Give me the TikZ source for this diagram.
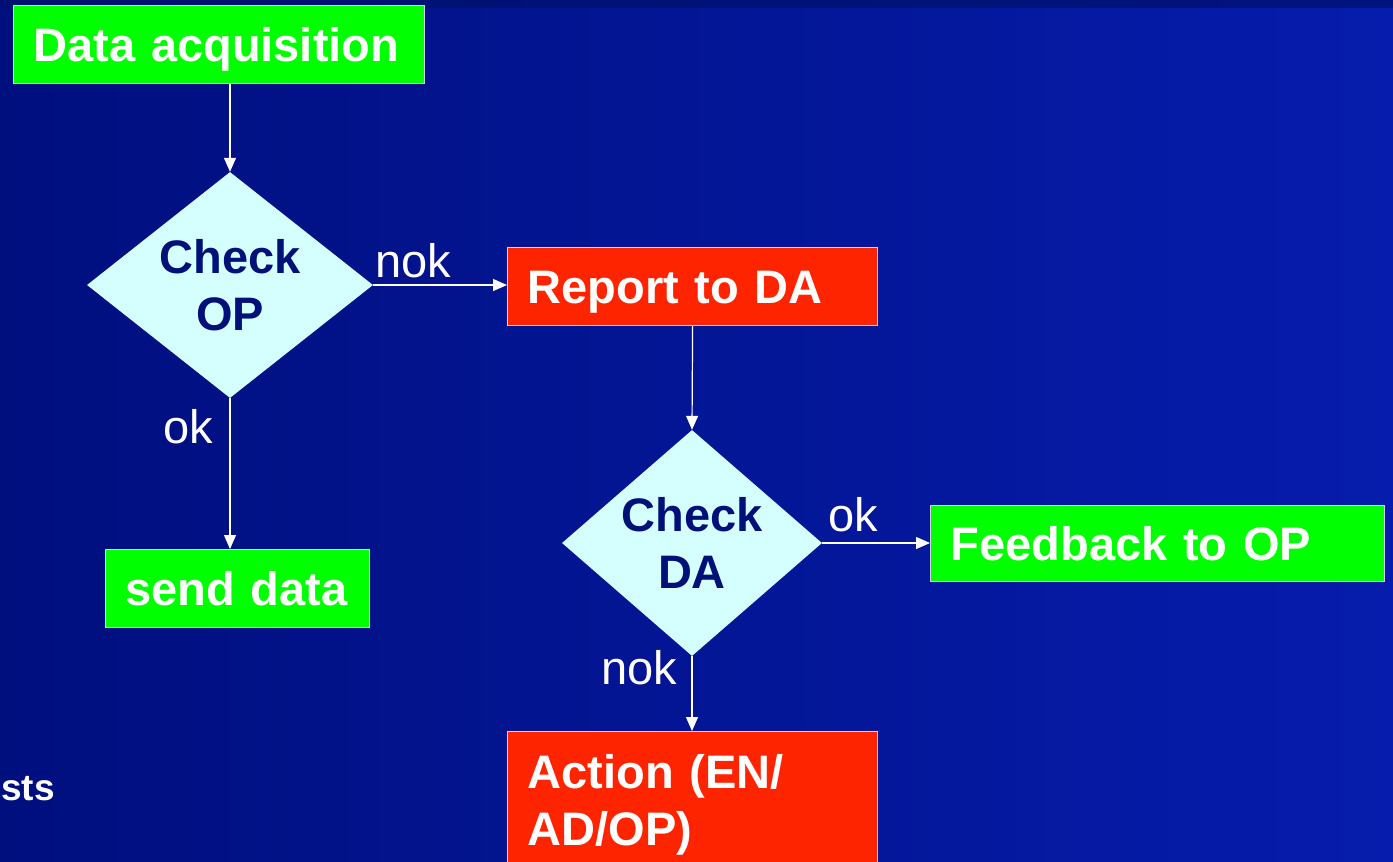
\documentclass[tikz,border=0pt]{standalone}
\usepackage{fontspec}
\setmainfont{Liberation Sans}
\usepackage{xcolor}
\usetikzlibrary{shapes.geometric,arrows.meta}

\definecolor{navytext}{RGB}{0,16,120}
\newcommand{\boxfont}{\fontsize{47}{57}\selectfont\bfseries}
\newcommand{\lblfont}{\fontsize{47}{57}\selectfont}

\begin{document}
\begin{tikzpicture}[x=1pt,y=1pt,yscale=-1,xscale=1,
    %boxes
    chart box/.style={draw={rgb, 255:red, 205; green, 210; blue, 230}, line width=1.2pt, text=white, font=\boxfont,
        anchor=north west, inner xsep=20pt, inner ysep=0pt, align=left,
        execute at begin node={\hyphenpenalty=10000}},
    oneline/.style={text height=34pt, text depth=0pt},
    okbox/.style={chart box, oneline, fill={rgb, 255:red, 0; green, 255; blue, 0}},
    nokbox/.style={chart box, fill={rgb, 255:red, 255; green, 36; blue, 0}},
    %decisions
    decision/.style={diamond, fill={rgb, 255:red, 213; green, 255; blue, 255}, text=navytext, font=\boxfont,
        inner sep=0pt, align=center, minimum height=226pt},
    %connectors and their labels
    flow/.style={draw=white, line width=1.2pt, -{Triangle[length=14pt,width=12pt]}},
    lbl/.style={text=white, font=\lblfont, inner sep=6pt}
  ]
    \useasboundingbox (0,0) rectangle (1393,862);
    \clip (0,0) rectangle (1393,862);

    %Background
    \shade [left color={rgb, 255:red, 0; green, 15; blue, 126}, right color={rgb, 255:red, 6; green, 28; blue, 172}] (0,0) rectangle (1393,862);
    \fill [left color={rgb, 255:red, 0; green, 16; blue, 112}, right color={rgb, 255:red, 0; green, 20; blue, 125}] (0,0) rectangle (1393,7);

    % Text Node
    \node [okbox, text width=371pt, minimum height=78pt] (dataacq) at (13,5) {Data acquisition};
    % Text Node
    \node [decision, aspect=1.27, minimum width=286pt] (chkop) at (230,285) {Check\\OP};
    % Text Node
    \node [nokbox, oneline, text width=330pt, minimum height=78pt] (report) at (507,247) {Report to DA};
    % Text Node
    \node [okbox, text width=224pt, minimum height=78pt] (senddata) at (105,549) {send data};
    % Text Node
    \node [decision, aspect=1.15, minimum width=260pt] (chkda) at (692,543) {Check\\DA};
    % Text Node
    \node [okbox, text width=414pt, minimum height=76pt] (feedback) at (930,505) {Feedback to OP};
    % Text Node
    \node [nokbox, text width=330pt, inner ysep=23pt] (action) at (507,731) {Action (EN/\\AD/OP)};
    % Text Node
    \node [anchor=base west, text=white, font=\fontsize{37}{44}\selectfont\bfseries, inner sep=0pt] (rests) at (1,800) {sts};

    % Connection
    \draw [flow] (chkop.north |- dataacq.south) -- (chkop.north);
    % Connection
    \draw [flow] (chkop.east) -- node [lbl, above, pos=0.3] {nok} (chkop.east -| report.west);
    % Connection
    \draw [flow] (chkop.south) -- node [lbl, left, pos=0.19, inner sep=16pt] {ok} (chkop.south |- senddata.north);
    % Connection
    \draw [flow] (report.south) -- (chkda.north);
    % Connection
    \draw [flow] (chkda.east) -- node [lbl, above, pos=0.29, inner sep=10pt] {ok} (chkda.east -| feedback.west);
    % Connection
    \draw [flow] (chkda.south) -- node [lbl, left, pos=0.16, inner sep=14pt] {nok} (chkda.south |- action.north);

\end{tikzpicture}
\end{document}
